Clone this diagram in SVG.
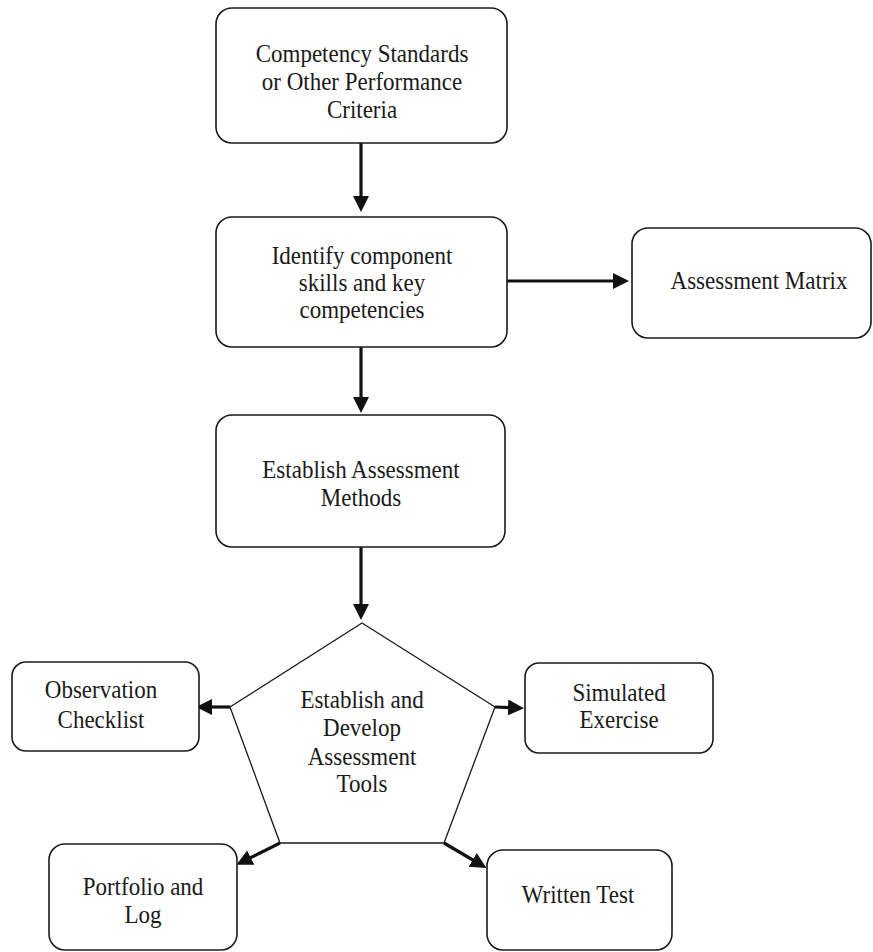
<svg xmlns="http://www.w3.org/2000/svg" width="873" height="952" viewBox="0 0 873 952">
  <style>
    .box { fill: #ffffff; stroke: #1a1a1a; stroke-width: 1.6; }
    .shape { fill: #ffffff; stroke: #1a1a1a; stroke-width: 1.3; }
    .lbl { font-family: "Liberation Serif", "Times New Roman", serif; font-size: 25px; fill: #1a1a1a; text-anchor: middle; }
    .link { stroke: #111111; stroke-width: 3.2; fill: none; marker-end: url(#head); }
  </style>
  <defs>
    <!-- filled triangular head; the line stops 4px short of the tip -->
    <marker id="head" markerUnits="userSpaceOnUse" markerWidth="17" markerHeight="17" refX="12" refY="8" orient="auto">
      <path d="M0,0 L16,8 L0,16 z" fill="#111111"/>
    </marker>
  </defs>
  <rect width="873" height="952" fill="#ffffff"/>

  <g id="connectors">
    <line class="link" x1="361" y1="143" x2="361" y2="208"/>
    <line class="link" x1="507" y1="281" x2="625" y2="281"/>
    <line class="link" x1="361" y1="347" x2="361" y2="409"/>
    <line class="link" x1="361" y1="547" x2="361" y2="616"/>
    <line class="link" x1="230" y1="707" x2="200" y2="707"/>
    <line class="link" x1="495" y1="707" x2="520" y2="708"/>
    <line class="link" x1="280" y1="843" x2="240" y2="863"/>
    <line class="link" x1="444" y1="843" x2="483" y2="866"/>
  </g>

  <g id="competency-standards">
    <rect class="box" x="216" y="8" width="291" height="135" rx="16"/>
    <g transform="translate(362,0) scale(0.92,1)">
      <text class="lbl" x="0" y="62">Competency Standards</text>
      <text class="lbl" x="0" y="90">or Other Performance</text>
      <text class="lbl" x="0" y="118">Criteria</text>
    </g>
  </g>

  <g id="identify-skills">
    <rect class="box" x="216" y="217" width="291" height="130" rx="16"/>
    <g transform="translate(362,0) scale(0.92,1)">
      <text class="lbl" x="0" y="264">Identify component</text>
      <text class="lbl" x="0" y="291">skills and key</text>
      <text class="lbl" x="0" y="318">competencies</text>
    </g>
  </g>

  <g id="assessment-matrix">
    <rect class="box" x="632" y="228" width="239" height="110" rx="16"/>
    <g transform="translate(759,0) scale(0.92,1)">
      <text class="lbl" x="0" y="289">Assessment Matrix</text>
    </g>
  </g>

  <g id="assessment-methods">
    <rect class="box" x="216" y="415" width="289" height="132" rx="16"/>
    <g transform="translate(361,0) scale(0.92,1)">
      <text class="lbl" x="0" y="478">Establish Assessment</text>
      <text class="lbl" x="0" y="506">Methods</text>
    </g>
  </g>

  <g id="assessment-tools">
    <polygon class="shape" points="362,623 495,707 444,843 280,843 230,707"/>
    <g transform="translate(362,0) scale(0.92,1)">
      <text class="lbl" x="0" y="708">Establish and</text>
      <text class="lbl" x="0" y="736">Develop</text>
      <text class="lbl" x="0" y="765">Assessment</text>
      <text class="lbl" x="0" y="792">Tools</text>
    </g>
  </g>

  <g id="observation-checklist">
    <rect class="box" x="12" y="662" width="187" height="89" rx="14"/>
    <g transform="translate(101,0) scale(0.92,1)">
      <text class="lbl" x="0" y="698">Observation</text>
      <text class="lbl" x="0" y="728">Checklist</text>
    </g>
  </g>

  <g id="simulated-exercise">
    <rect class="box" x="525" y="663" width="188" height="90" rx="14"/>
    <g transform="translate(619,0) scale(0.92,1)">
      <text class="lbl" x="0" y="701">Simulated</text>
      <text class="lbl" x="0" y="728">Exercise</text>
    </g>
  </g>

  <g id="portfolio-log">
    <rect class="box" x="49" y="844" width="188" height="106" rx="16"/>
    <g transform="translate(143,0) scale(0.92,1)">
      <text class="lbl" x="0" y="895">Portfolio and</text>
      <text class="lbl" x="0" y="923">Log</text>
    </g>
  </g>

  <g id="written-test">
    <rect class="box" x="487" y="850" width="185" height="100" rx="16"/>
    <g transform="translate(578,0) scale(0.92,1)">
      <text class="lbl" x="0" y="903">Written Test</text>
    </g>
  </g>
</svg>
